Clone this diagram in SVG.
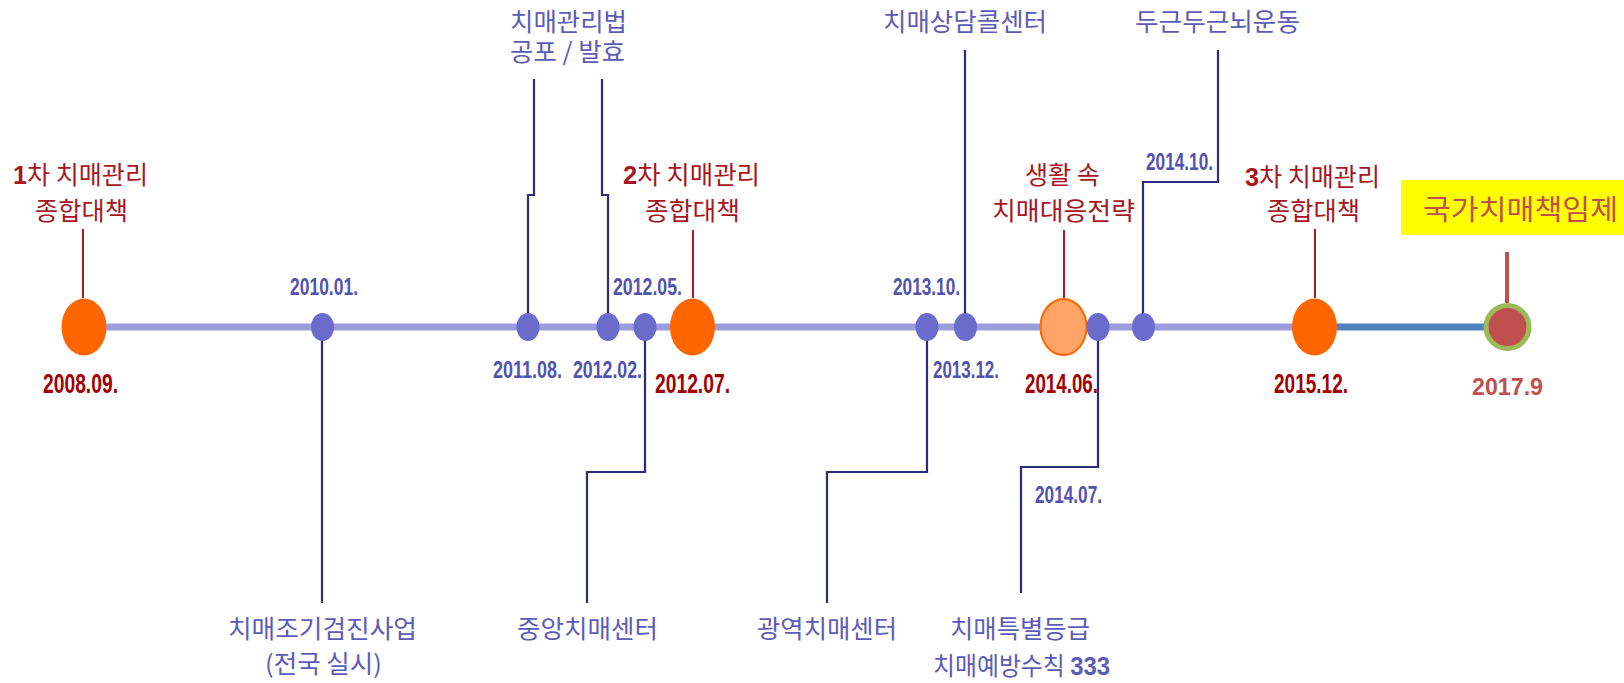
<svg xmlns="http://www.w3.org/2000/svg" width="1624" height="683" viewBox="0 0 1624 683">
<style>
.kr{font-family:"Noto Sans CJK KR","Noto Sans",sans-serif;font-size:25px}
.red{fill:#a8161e}
.blue{fill:#5c5cb8}
.num{font-family:"Liberation Sans",Arial,sans-serif;font-weight:bold}
.db{font-family:"Liberation Sans",Arial,sans-serif;font-weight:bold;font-size:24px;fill:#5252b0}
.dr{font-family:"Liberation Sans",Arial,sans-serif;font-weight:bold;font-size:27px;fill:#a30000}
.conn{fill:none;stroke:#2b2b7a;stroke-width:2.2}
.lead{fill:none;stroke:#b01c24;stroke-width:2}
.big{fill:#ff6600}
.dot{fill:#6b6bcc}
</style>
<rect width="1624" height="683" fill="#ffffff"/>
<g id="timeline">
<line x1="84" y1="327" x2="1315" y2="327" stroke="#9c9cdc" stroke-width="7"/>
<line x1="1315" y1="327" x2="1507" y2="327" stroke="#4f81bd" stroke-width="7"/>
</g>
<g id="connectors">
<path class="conn" d="M322 327 V603"/>
<path class="conn" d="M528 327 V195 H534 V79"/>
<path class="conn" d="M608 327 V195 H602 V79"/>
<path class="conn" d="M645 327 V472 H587 V603"/>
<path class="conn" d="M927 327 V472 H827 V603"/>
<path class="conn" d="M965 327 V50"/>
<path class="conn" d="M1098 327 V467 H1021 V593"/>
<path class="conn" d="M1143 327 V182 H1218 V50"/>
<path class="lead" d="M83 229 V298"/>
<path class="lead" d="M693 230 V298"/>
<path class="lead" d="M1064 230 V298"/>
<path class="lead" d="M1315 229 V298"/>
<path d="M1507 252 V303" fill="none" stroke="#c0504d" stroke-width="4"/>
</g>
<g id="n2008">
<ellipse class="big" cx="84" cy="327" rx="22.5" ry="28.5"/>
<text class="kr red" x="13" y="184" textLength="135" lengthAdjust="spacingAndGlyphs"><tspan class="num">1</tspan>차 치매관리</text>
<text class="kr red" x="35" y="220" textLength="93" lengthAdjust="spacingAndGlyphs">종합대책</text>
<text class="dr" x="43" y="393" textLength="75" lengthAdjust="spacingAndGlyphs">2008.09.</text>
</g>
<g id="n2010">
<ellipse class="dot" cx="322.5" cy="327" rx="11.5" ry="14"/>
<text class="db" x="290" y="295" textLength="68" lengthAdjust="spacingAndGlyphs">2010.01.</text>
<text class="kr blue" x="228" y="638" textLength="189" lengthAdjust="spacingAndGlyphs">치매조기검진사업</text>
<text class="kr blue" x="265" y="673" textLength="117" lengthAdjust="spacingAndGlyphs">(전국 실시)</text>
</g>
<g id="n2011">
<ellipse class="dot" cx="528" cy="327" rx="11.5" ry="14"/>
<text class="db" x="493" y="378" textLength="69" lengthAdjust="spacingAndGlyphs">2011.08.</text>
</g>
<g id="n2012-02">
<ellipse class="dot" cx="608" cy="327" rx="11.5" ry="14"/>
<text class="db" x="573" y="378" textLength="69" lengthAdjust="spacingAndGlyphs">2012.02.</text>
</g>
<g id="law">
<text class="kr blue" x="510" y="31" textLength="117" lengthAdjust="spacingAndGlyphs">치매관리법</text>
<text class="kr blue" x="510" y="61" textLength="115" lengthAdjust="spacingAndGlyphs">공포 / 발효</text>
</g>
<g id="n2012-05">
<ellipse class="dot" cx="645" cy="327" rx="11.5" ry="14"/>
<text class="db" x="613" y="295" textLength="69" lengthAdjust="spacingAndGlyphs">2012.05.</text>
<text class="kr blue" x="517" y="638" textLength="141" lengthAdjust="spacingAndGlyphs">중앙치매센터</text>
</g>
<g id="n2012-07">
<ellipse class="big" cx="692.5" cy="327" rx="22.5" ry="28.5"/>
<text class="kr red" x="623" y="184" textLength="137" lengthAdjust="spacingAndGlyphs"><tspan class="num">2</tspan>차 치매관리</text>
<text class="kr red" x="645" y="220" textLength="95" lengthAdjust="spacingAndGlyphs">종합대책</text>
<text class="dr" x="655" y="393" textLength="75" lengthAdjust="spacingAndGlyphs">2012.07.</text>
</g>
<g id="n2013-10">
<ellipse class="dot" cx="927" cy="327" rx="11.5" ry="14"/>
<text class="db" x="893" y="295" textLength="67" lengthAdjust="spacingAndGlyphs">2013.10.</text>
<text class="kr blue" x="757" y="638" textLength="140" lengthAdjust="spacingAndGlyphs">광역치매센터</text>
</g>
<g id="n2013-12">
<ellipse class="dot" cx="965.5" cy="327" rx="11.5" ry="14"/>
<text class="db" x="933" y="378" textLength="66" lengthAdjust="spacingAndGlyphs">2013.12.</text>
<text class="kr blue" x="883" y="31" textLength="164" lengthAdjust="spacingAndGlyphs">치매상담콜센터</text>
</g>
<g id="n2014-06">
<ellipse cx="1063.5" cy="327" rx="23" ry="28" fill="#ffa366" stroke="#ff6600" stroke-width="2"/>
<text class="kr red" x="1025" y="184" textLength="75" lengthAdjust="spacingAndGlyphs">생활 속</text>
<text class="kr red" x="992" y="220" textLength="143" lengthAdjust="spacingAndGlyphs">치매대응전략</text>
<text class="dr" x="1025" y="393" textLength="73" lengthAdjust="spacingAndGlyphs">2014.06.</text>
</g>
<g id="n2014-07">
<ellipse class="dot" cx="1098" cy="327" rx="11.5" ry="14"/>
<text class="db" x="1035" y="503" textLength="67" lengthAdjust="spacingAndGlyphs">2014.07.</text>
<text class="kr blue" x="950" y="638" textLength="140" lengthAdjust="spacingAndGlyphs">치매특별등급</text>
<text class="kr blue" x="933" y="675" textLength="177" lengthAdjust="spacingAndGlyphs">치매예방수칙 <tspan class="num">333</tspan></text>
</g>
<g id="n2014-10">
<ellipse class="dot" cx="1143.5" cy="327" rx="11.5" ry="14"/>
<text class="db" x="1146" y="170" textLength="67" lengthAdjust="spacingAndGlyphs">2014.10.</text>
<text class="kr blue" x="1135" y="31" textLength="165" lengthAdjust="spacingAndGlyphs">두근두근뇌운동</text>
</g>
<g id="n2015">
<ellipse class="big" cx="1314.5" cy="327" rx="22.5" ry="28.5"/>
<text class="kr red" x="1245" y="186" textLength="135" lengthAdjust="spacingAndGlyphs"><tspan class="num">3</tspan>차 치매관리</text>
<text class="kr red" x="1267" y="220" textLength="93" lengthAdjust="spacingAndGlyphs">종합대책</text>
<text class="dr" x="1274" y="393" textLength="74" lengthAdjust="spacingAndGlyphs">2015.12.</text>
</g>
<g id="n2017">
<rect x="1401" y="180" width="223" height="55" fill="#ffff00"/>
<text x="1423" y="220" font-family="Noto Sans CJK KR, sans-serif" font-size="28" fill="#c0504d" textLength="195" lengthAdjust="spacingAndGlyphs">국가치매책임제</text>
<circle cx="1507.5" cy="327" r="21.5" fill="#c0504d" stroke="#9bbb59" stroke-width="5"/>
<text x="1472" y="395" font-family="Liberation Sans, Arial, sans-serif" font-weight="bold" font-size="24" fill="#c0504d" textLength="71" lengthAdjust="spacingAndGlyphs">2017.9</text>
</g>
</svg>
